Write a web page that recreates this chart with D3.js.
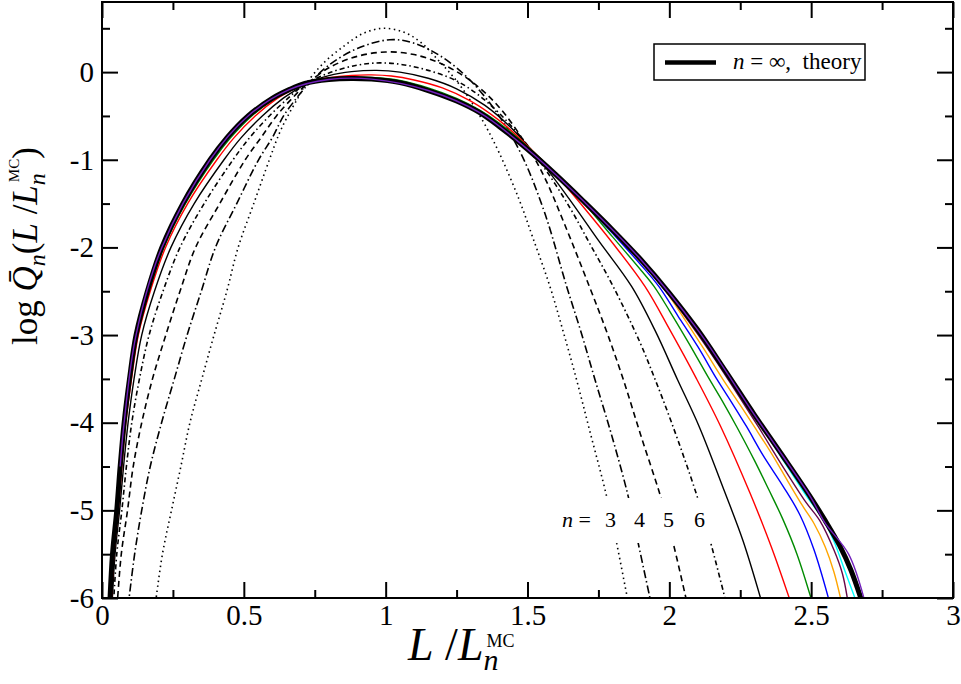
<!DOCTYPE html>
<html><head><meta charset="utf-8">
<script src="https://cdn.jsdelivr.net/npm/d3@7"></script>
<style>
html,body{margin:0;padding:0;background:#fff;}
svg{display:block;}
svg text{font-family:"Liberation Serif","Times New Roman",serif !important;fill:#000;}
</style></head><body>
<div id="chart"></div>
<script>
// ---------- data (x = L/L_n^MC, y = log Q) ----------
const xTickValues = [0, 0.5, 1, 1.5, 2, 2.5, 3];
const xTickLabels = ["0", "0.5", "1", "1.5", "2", "2.5", "3"];
const yTickValues = [-6, -5, -4, -3, -2, -1, 0];
const yTickLabels = ["-6", "-5", "-4", "-3", "-2", "-1", "0"];
const annotationLabels = ["3", "4", "5", "6"];

const n3 = [[0.187,-6.1],[0.213,-5.5],[0.245,-5.0],[0.278,-4.5],[0.31,-4.0],[0.352,-3.5],[0.395,-3.0],[0.44,-2.5],[0.48,-2.0],[0.535,-1.5],[0.59,-1.0],[0.625,-0.7],[0.655,-0.5],[0.69,-0.3],[0.72,-0.13],[0.78,0.1],[0.85,0.29],[0.92,0.44],[0.99,0.5],[1.06,0.46],[1.12,0.35],[1.19,0.12],[1.25,-0.1],[1.3,-0.33],[1.35,-0.6],[1.4,-0.92],[1.47,-1.45],[1.52,-1.9],[1.579,-2.445],[1.625,-2.95],[1.673,-3.51],[1.72,-4.1],[1.779,-4.84],[1.814,-5.37],[1.855,-6.05]];
const n4 = [[0.092,-6.1],[0.115,-5.5],[0.14,-5.0],[0.17,-4.5],[0.21,-4.0],[0.255,-3.5],[0.3,-3.0],[0.35,-2.5],[0.4,-2.0],[0.475,-1.5],[0.552,-1.0],[0.6,-0.75],[0.64,-0.5],[0.685,-0.3],[0.71,-0.2],[0.73,-0.13],[0.8,0.08],[0.9,0.27],[1.015,0.37],[1.1,0.33],[1.2,0.17],[1.3,-0.1],[1.4,-0.5],[1.48,-0.95],[1.56,-1.6],[1.638,-2.445],[1.69,-2.98],[1.738,-3.51],[1.8,-4.18],[1.855,-4.84],[1.89,-5.37],[1.935,-6.05]];
const n5 = [[0.053,-6.1],[0.068,-5.5],[0.09,-5.0],[0.11,-4.5],[0.14,-4.0],[0.178,-3.5],[0.225,-3.0],[0.275,-2.5],[0.33,-2.0],[0.415,-1.5],[0.505,-1.0],[0.56,-0.75],[0.615,-0.5],[0.67,-0.3],[0.7,-0.2],[0.725,-0.13],[0.8,0.05],[0.9,0.18],[1.0,0.23],[1.1,0.2],[1.2,0.09],[1.3,-0.1],[1.4,-0.4],[1.5,-0.85],[1.56,-1.2],[1.63,-1.73],[1.718,-2.445],[1.78,-2.97],[1.838,-3.51],[1.9,-4.15],[1.969,-4.84],[2.008,-5.3],[2.062,-6.05]];
const n6 = [[0.04,-6.1],[0.052,-5.5],[0.07,-5.0],[0.086,-4.5],[0.105,-4.0],[0.132,-3.5],[0.166,-3.0],[0.215,-2.5],[0.275,-2.0],[0.36,-1.5],[0.462,-1.0],[0.52,-0.75],[0.59,-0.5],[0.655,-0.3],[0.69,-0.2],[0.72,-0.13],[0.8,-0.01],[0.9,0.08],[0.98,0.105],[1.06,0.085],[1.15,0.02],[1.25,-0.1],[1.35,-0.32],[1.45,-0.64],[1.55,-1.05],[1.65,-1.55],[1.72,-1.96],[1.802,-2.445],[1.896,-3.08],[1.943,-3.45],[2.008,-4.0],[2.094,-4.8],[2.14,-5.3],[2.2,-6.05]];
const n7 = [[0.035,-6.1],[0.046,-5.5],[0.062,-5.0],[0.076,-4.5],[0.092,-4.0],[0.113,-3.5],[0.14,-3.0],[0.185,-2.5],[0.243,-2.0],[0.325,-1.5],[0.43,-1.0],[0.49,-0.75],[0.565,-0.5],[0.638,-0.3],[0.685,-0.2],[0.72,-0.13],[0.8,-0.04],[0.88,0.005],[0.968,0.02],[1.05,0.0],[1.15,-0.07],[1.25,-0.19],[1.35,-0.38],[1.45,-0.66],[1.55,-1.03],[1.65,-1.46],[1.75,-1.92],[1.867,-2.445],[1.95,-2.95],[2.029,-3.51],[2.105,-4.043],[2.194,-4.78],[2.26,-5.35],[2.326,-6.05]];
const nRed = [[0.032,-6.1],[0.042,-5.5],[0.057,-5.0],[0.07,-4.5],[0.084,-4.0],[0.104,-3.5],[0.128,-3.0],[0.17,-2.5],[0.224,-2.0],[0.302,-1.5],[0.405,-1.0],[0.465,-0.75],[0.54,-0.5],[0.618,-0.3],[0.672,-0.2],[0.718,-0.125],[0.8,-0.065],[0.88,-0.038],[0.95,-0.032],[1.02,-0.045],[1.1,-0.09],[1.2,-0.18],[1.3,-0.33],[1.4,-0.55],[1.5,-0.84],[1.6,-1.17],[1.7,-1.55],[1.8,-1.95],[1.914,-2.445],[2.0,-2.93],[2.096,-3.5],[2.181,-4.043],[2.284,-4.8],[2.36,-5.42],[2.428,-6.05]];
const nGreen = [[0.03,-6.1],[0.04,-5.5],[0.055,-5.0],[0.067,-4.5],[0.081,-4.0],[0.1,-3.5],[0.124,-3.0],[0.165,-2.5],[0.218,-2.0],[0.294,-1.5],[0.393,-1.0],[0.453,-0.75],[0.528,-0.5],[0.61,-0.3],[0.666,-0.2],[0.716,-0.125],[0.8,-0.075],[0.88,-0.058],[0.95,-0.062],[1.05,-0.095],[1.15,-0.18],[1.25,-0.3],[1.33,-0.43],[1.4,-0.58],[1.5,-0.85],[1.6,-1.16],[1.7,-1.5],[1.8,-1.88],[1.9,-2.26],[1.946,-2.445],[2.0,-2.72],[2.07,-3.1],[2.137,-3.48],[2.19,-3.77],[2.237,-4.043],[2.3,-4.43],[2.35,-4.76],[2.4,-5.1],[2.45,-5.5],[2.504,-6.05]];
const nBlue = [[0.029,-6.1],[0.039,-5.5],[0.054,-5.0],[0.066,-4.5],[0.08,-4.0],[0.099,-3.5],[0.122,-3.0],[0.163,-2.5],[0.215,-2.0],[0.29,-1.5],[0.387,-1.0],[0.447,-0.75],[0.522,-0.5],[0.605,-0.3],[0.663,-0.2],[0.715,-0.125],[0.8,-0.08],[0.88,-0.066],[0.95,-0.072],[1.05,-0.112],[1.15,-0.2],[1.25,-0.32],[1.33,-0.45],[1.4,-0.6],[1.5,-0.87],[1.6,-1.16],[1.7,-1.49],[1.8,-1.84],[1.9,-2.2],[1.963,-2.445],[2.03,-2.78],[2.1,-3.13],[2.167,-3.5],[2.22,-3.77],[2.272,-4.043],[2.33,-4.37],[2.4,-4.72],[2.46,-5.05],[2.51,-5.45],[2.565,-6.05]];
const nOrange = [[0.028,-6.1],[0.038,-5.5],[0.053,-5.0],[0.065,-4.5],[0.079,-4.0],[0.098,-3.5],[0.121,-3.0],[0.161,-2.5],[0.213,-2.0],[0.287,-1.5],[0.384,-1.0],[0.443,-0.75],[0.518,-0.5],[0.602,-0.3],[0.662,-0.2],[0.715,-0.128],[0.8,-0.083],[0.88,-0.07],[0.95,-0.078],[1.05,-0.118],[1.15,-0.205],[1.25,-0.325],[1.33,-0.455],[1.4,-0.61],[1.5,-0.875],[1.6,-1.165],[1.7,-1.48],[1.8,-1.82],[1.9,-2.17],[1.975,-2.445],[2.05,-2.8],[2.12,-3.15],[2.19,-3.51],[2.25,-3.8],[2.299,-4.043],[2.36,-4.35],[2.42,-4.68],[2.47,-4.95],[2.51,-5.15],[2.55,-5.42],[2.58,-5.7],[2.607,-6.05]];
const nMaroon = [[0.027,-6.1],[0.052,-5.0],[0.078,-4.0],[0.12,-3.0],[0.211,-2.0],[0.381,-1.0],[0.515,-0.5],[0.66,-0.2],[0.8,-0.085],[0.95,-0.08],[1.15,-0.21],[1.33,-0.46],[1.5,-0.875],[1.6,-1.17],[1.7,-1.485],[1.8,-1.81],[1.9,-2.16],[2.0,-2.55],[2.1,-2.99],[2.2,-3.47],[2.313,-4.043],[2.4,-4.5],[2.48,-4.9],[2.531,-5.12],[2.58,-5.45],[2.61,-5.72],[2.63,-6.05]];
const nCyan = [[0.027,-6.1],[0.052,-5.0],[0.078,-4.0],[0.12,-3.0],[0.211,-2.0],[0.381,-1.0],[0.515,-0.5],[0.66,-0.2],[0.8,-0.085],[0.95,-0.08],[1.15,-0.21],[1.33,-0.46],[1.5,-0.88],[1.6,-1.17],[1.7,-1.48],[1.8,-1.8],[1.9,-2.15],[2.0,-2.53],[2.1,-2.95],[2.2,-3.43],[2.325,-4.043],[2.4,-4.42],[2.48,-4.82],[2.545,-5.12],[2.58,-5.35],[2.62,-5.7],[2.66,-6.05]];
const nViolet = [[0.064,-4.5],[0.078,-4.0],[0.12,-3.0],[0.211,-2.0],[0.381,-1.0],[0.515,-0.5],[0.66,-0.2],[0.8,-0.085],[0.95,-0.08],[1.15,-0.21],[1.33,-0.46],[1.5,-0.88],[1.7,-1.48],[1.9,-2.14],[2.1,-2.94],[2.3,-3.91],[2.4,-4.38],[2.5,-4.86],[2.548,-5.14],[2.632,-5.5],[2.69,-6.05]];
const theory = [[0.027,-6.1],[0.037,-5.5],[0.052,-5.0],[0.064,-4.5],[0.078,-4.0],[0.097,-3.5],[0.12,-3.0],[0.16,-2.5],[0.211,-2.0],[0.285,-1.5],[0.381,-1.0],[0.44,-0.75],[0.515,-0.5],[0.6,-0.3],[0.66,-0.2],[0.715,-0.13],[0.8,-0.085],[0.88,-0.072],[0.95,-0.08],[1.05,-0.12],[1.15,-0.21],[1.25,-0.33],[1.33,-0.46],[1.4,-0.62],[1.5,-0.88],[1.6,-1.17],[1.7,-1.48],[1.8,-1.8],[1.9,-2.14],[2.0,-2.52],[2.1,-2.94],[2.2,-3.42],[2.3,-3.91],[2.4,-4.38],[2.5,-4.86],[2.55,-5.12],[2.6,-5.4],[2.64,-5.68],[2.68,-6.05]];

const seriesList = [
  {data: n3, color: "#000", width: 1.6, dash: "1.5 3.5"},
  {data: n4, color: "#000", width: 1.6, dash: "8 3 1.5 3"},
  {data: n5, color: "#000", width: 1.6, dash: "6 4"},
  {data: n6, color: "#000", width: 1.6, dash: "5 3 1.5 3"},
  {data: n7, color: "#000", width: 1.4, dash: null},
  {data: nRed, color: "#ff0000", width: 1.4, dash: null},
  {data: nGreen, color: "#008b00", width: 1.4, dash: null},
  {data: nBlue, color: "#0000ff", width: 1.4, dash: null},
  {data: nOrange, color: "#ffa500", width: 1.4, dash: null},
  {data: nMaroon, color: "#670748", width: 1.4, dash: null},
  {data: nCyan, color: "#00ffff", width: 1.4, dash: null},
  {data: theory, color: "#000", width: 5, dash: null},
  {data: nViolet, color: "#7221bc", width: 1.4, dash: null}
];

// ---------- layout ----------
const W = 961, H = 684;
const M = {left: 102, right: 8, top: 2, bottom: 86};
const iw = W - M.left - M.right, ih = H - M.top - M.bottom;
const FONT = "Liberation Serif";

const svg = d3.select("#chart").append("svg").attr("width", W).attr("height", H)
  .attr("font-family", FONT);
const g = svg.append("g").attr("transform", `translate(${M.left},${M.top})`);

const x = d3.scaleLinear().domain([0, 3]).range([0, iw]);
const y = d3.scaleLinear().domain([-6, 0.8]).range([ih, 0]);

svg.append("defs").append("clipPath").attr("id", "clip")
  .append("rect").attr("width", iw).attr("height", ih);

// curves
const line = d3.line().x(d => x(d[0])).y(d => y(d[1])).curve(d3.curveCatmullRom.alpha(0.5));
const curves = g.append("g").attr("clip-path", "url(#clip)");
seriesList.forEach(s => {
  curves.append("path").datum(s.data)
    .attr("d", line).attr("fill", "none")
    .attr("stroke", s.color).attr("stroke-width", s.width)
    .attr("stroke-dasharray", s.dash)
    .attr("stroke-linejoin", "round");
});

// axes
const xMinor = d3.range(0.25, 3, 0.5);
const yMinor = d3.range(-5.5, 0.8, 1);
function styleAxis(sel){
  sel.attr("font-family", FONT);
  sel.select(".domain").remove();
  sel.selectAll(".tick line").attr("stroke", "#000").attr("stroke-width", 2);
  sel.selectAll(".tick text").attr("font-family", FONT).attr("fill", "#000");
}
g.append("g").attr("transform", `translate(0,${ih})`)
  .call(d3.axisBottom(x).tickValues(xTickValues).tickFormat((d,i) => xTickLabels[i]).tickSize(-16).tickPadding(5))
  .call(styleAxis).selectAll("text").attr("font-size", 29).attr("dy", "0.76em");
g.append("g").attr("transform", `translate(0,${ih})`)
  .call(d3.axisBottom(x).tickValues(xMinor).tickFormat("").tickSize(-8)).call(styleAxis);
g.append("g")
  .call(d3.axisTop(x).tickValues(xTickValues).tickFormat("").tickSize(-16)).call(styleAxis);
g.append("g")
  .call(d3.axisTop(x).tickValues(xMinor).tickFormat("").tickSize(-8)).call(styleAxis);
g.append("g")
  .call(d3.axisLeft(y).tickValues(yTickValues).tickFormat((d,i) => yTickLabels[i]).tickSize(-16).tickPadding(8))
  .call(styleAxis).selectAll("text").attr("font-size", 29);
g.append("g")
  .call(d3.axisLeft(y).tickValues(yMinor).tickFormat("").tickSize(-8)).call(styleAxis);
g.append("g").attr("transform", `translate(${iw},0)`)
  .call(d3.axisRight(y).tickValues(yTickValues).tickFormat("").tickSize(-16)).call(styleAxis);
g.append("g").attr("transform", `translate(${iw},0)`)
  .call(d3.axisRight(y).tickValues(yMinor).tickFormat("").tickSize(-8)).call(styleAxis);

g.append("rect").attr("width", iw).attr("height", ih)
  .attr("fill", "none").attr("stroke", "#000").attr("stroke-width", 2);

// x axis title
const xt = svg.append("text").attr("x", 408).attr("y", 660).attr("font-size", 46);
xt.append("tspan").attr("font-style", "italic").text("L");
xt.append("tspan").text(" /");
xt.append("tspan").attr("font-style", "italic").text("L");
xt.append("tspan").attr("font-size", 30).attr("font-style", "italic").attr("dy", 10).text("n");
xt.append("tspan").attr("font-size", 18).attr("dx", -12).attr("dy", -23).text("MC");

// y axis title
const yt = svg.append("text").attr("transform", "translate(37,345) rotate(-90)").attr("font-size", 35);
yt.append("tspan").text("log ");
yt.append("tspan").attr("font-style", "italic").text("Q\u0304");
yt.append("tspan").attr("font-size", 24).attr("font-style", "italic").attr("dy", 8).text("n");
yt.append("tspan").attr("dy", -8).text("(");
yt.append("tspan").attr("font-style", "italic").text("L");
yt.append("tspan").text(" /");
yt.append("tspan").attr("font-style", "italic").text("L");
yt.append("tspan").attr("font-size", 24).attr("font-style", "italic").attr("dy", 8).text("n");
yt.append("tspan").attr("font-size", 15).attr("dx", -9).attr("dy", -26).text("MC");
yt.append("tspan").attr("dy", 18).text(")");

// legend
const lg = svg.append("g");
lg.append("rect").attr("x", 654).attr("y", 44).attr("width", 211).attr("height", 36)
  .attr("fill", "#fff").attr("stroke", "#000").attr("stroke-width", 1.5);
lg.append("line").attr("x1", 665).attr("x2", 716).attr("y1", 62.5).attr("y2", 62.5)
  .attr("stroke", "#000").attr("stroke-width", 4.5);
const lt = lg.append("text").attr("x", 733).attr("y", 69).attr("font-size", 23);
lt.append("tspan").attr("font-style", "italic").text("n");
lt.append("tspan").text(" = \u221E,\u00A0\u00A0theory");

// annotation n = 3 4 5 6 (white backing interrupts the dashed curves)
svg.append("rect").attr("x", 556).attr("y", 498).attr("width", 158).attr("height", 45).attr("fill", "#fff");
const at = svg.append("text").attr("x", 562).attr("y", 527).attr("font-size", 22);
at.append("tspan").attr("font-style", "italic").text("n");
at.append("tspan").text(" =");
const annX = [605, 634, 663, 694];
annotationLabels.forEach((t, i) => {
  svg.append("text").attr("x", annX[i]).attr("y", 527).attr("font-size", 22).text(t);
});
</script>
</body></html>
